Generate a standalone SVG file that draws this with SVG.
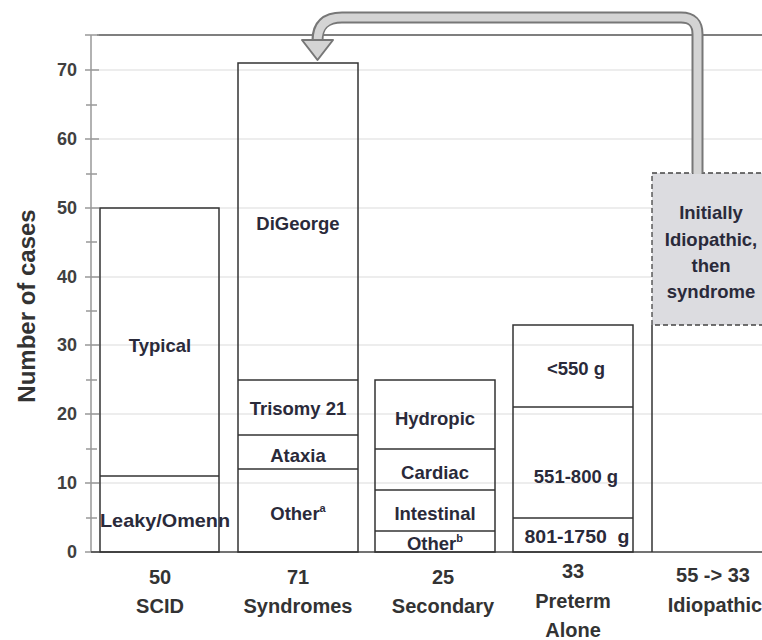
<svg xmlns="http://www.w3.org/2000/svg" width="762" height="640" viewBox="0 0 762 640">
<style>
.grid{stroke:#dcdcdc;stroke-width:1.2}
.tick{stroke:#999;stroke-width:1.5}
.bar{fill:none;stroke:#333;stroke-width:1.5}
.ax{font-family:"Liberation Sans",Arial,sans-serif;font-weight:bold;font-size:18px;fill:#404040;text-anchor:end}
.lbl{font-family:"Liberation Sans",Arial,sans-serif;font-weight:bold;font-size:18.5px;fill:#2a2a3a;text-anchor:middle}
.cat{font-family:"Liberation Sans",Arial,sans-serif;font-weight:bold;font-size:20px;fill:#333;text-anchor:middle}
</style>
<rect width="762" height="640" fill="#fff"/>
<g id="axes">
<line class="grid" x1="91" y1="483" x2="762" y2="483"/>
<line class="grid" x1="91" y1="414" x2="762" y2="414"/>
<line class="grid" x1="91" y1="345" x2="762" y2="345"/>
<line class="grid" x1="91" y1="277" x2="762" y2="277"/>
<line class="grid" x1="91" y1="208" x2="762" y2="208"/>
<line class="grid" x1="91" y1="139" x2="762" y2="139"/>
<line class="grid" x1="91" y1="70" x2="762" y2="70"/>
<line x1="97" y1="35" x2="762" y2="35" stroke="#555" stroke-width="1.5"/>
<line class="tick" x1="91" y1="35" x2="91" y2="552"/>
<line class="tick" x1="85" y1="552" x2="99" y2="552"/>
<line class="tick" x1="85" y1="483" x2="99" y2="483"/>
<line class="tick" x1="85" y1="414" x2="99" y2="414"/>
<line class="tick" x1="85" y1="345" x2="99" y2="345"/>
<line class="tick" x1="85" y1="277" x2="99" y2="277"/>
<line class="tick" x1="85" y1="208" x2="99" y2="208"/>
<line class="tick" x1="85" y1="139" x2="99" y2="139"/>
<line class="tick" x1="85" y1="70" x2="99" y2="70"/>
<line class="tick" x1="85" y1="35" x2="99" y2="35"/>
<line class="tick" x1="86" y1="518" x2="97" y2="518"/>
<line class="tick" x1="86" y1="449" x2="97" y2="449"/>
<line class="tick" x1="86" y1="380" x2="97" y2="380"/>
<line class="tick" x1="86" y1="311" x2="97" y2="311"/>
<line class="tick" x1="86" y1="242" x2="97" y2="242"/>
<line class="tick" x1="86" y1="174" x2="97" y2="174"/>
<line class="tick" x1="86" y1="105" x2="97" y2="105"/>
<line x1="91" y1="552" x2="762" y2="552" stroke="#444" stroke-width="1.5"/>
<text class="ax" x="77" y="558">0</text>
<text class="ax" x="77" y="489">10</text>
<text class="ax" x="77" y="420">20</text>
<text class="ax" x="77" y="351">30</text>
<text class="ax" x="77" y="283">40</text>
<text class="ax" x="77" y="214">50</text>
<text class="ax" x="77" y="145">60</text>
<text class="ax" x="77" y="76">70</text>
<text x="0" y="0" transform="translate(35,306) rotate(-90)" font-family="'Liberation Sans',Arial,sans-serif" font-weight="bold" font-size="24" fill="#333" text-anchor="middle">Number of cases</text>
</g>
<g id="scid">
<rect class="bar" x="100" y="208" width="119" height="344"/>
<line class="bar" x1="100" y1="476" x2="219" y2="476"/>
<text class="lbl" x="160" y="352">Typical</text>
<text class="lbl" x="165" y="527" textLength="130" lengthAdjust="spacingAndGlyphs">Leaky/Omenn</text>
</g>
<g id="syndromes">
<rect class="bar" x="238" y="63" width="120" height="489"/>
<line class="bar" x1="238" y1="380" x2="358" y2="380"/>
<line class="bar" x1="238" y1="435" x2="358" y2="435"/>
<line class="bar" x1="238" y1="469" x2="358" y2="469"/>
<text class="lbl" x="298" y="230">DiGeorge</text>
<text class="lbl" x="298" y="415">Trisomy 21</text>
<text class="lbl" x="298" y="462">Ataxia</text>
<text class="lbl" x="298" y="520">Other<tspan font-size="11" dy="-8">a</tspan></text>
</g>
<g id="secondary">
<rect class="bar" x="375" y="380" width="120" height="172"/>
<line class="bar" x1="375" y1="449" x2="495" y2="449"/>
<line class="bar" x1="375" y1="490" x2="495" y2="490"/>
<line class="bar" x1="375" y1="531" x2="495" y2="531"/>
<text class="lbl" x="435" y="425">Hydropic</text>
<text class="lbl" x="435" y="479">Cardiac</text>
<text class="lbl" x="435" y="520">Intestinal</text>
<text class="lbl" x="435" y="550">Other<tspan font-size="11" dy="-8">b</tspan></text>
</g>
<g id="preterm">
<rect class="bar" x="513" y="325" width="120" height="227"/>
<line class="bar" x1="513" y1="407" x2="633" y2="407"/>
<line class="bar" x1="513" y1="518" x2="633" y2="518"/>
<text class="lbl" x="576" y="375">&lt;550 g</text>
<text class="lbl" x="576" y="483">551-800 g</text>
<text class="lbl" x="577" y="543" textLength="105" lengthAdjust="spacingAndGlyphs" xml:space="preserve">801-1750  g</text>
</g>
<g id="idiopathic">
<line class="bar" x1="652" y1="325" x2="652" y2="552"/>
<rect x="652" y="173" width="120" height="152" fill="#dcdce0" stroke="#444" stroke-width="1.3" stroke-dasharray="5,3"/>
<text class="lbl" x="711" y="219">Initially</text>
<text class="lbl" x="711" y="246">Idiopathic,</text>
<text class="lbl" x="711" y="272">then</text>
<text class="lbl" x="711" y="298">syndrome</text>
</g>
<g id="connectors">
<path d="M697.5,173 V34 Q697.5,17.5 681,17.5 H342 Q317.5,17.5 317.5,40" fill="none" stroke="#777" stroke-width="12"/>
<path d="M697.5,174 V34 Q697.5,17.5 681,17.5 H342 Q317.5,17.5 317.5,42" fill="none" stroke="#d4d4d4" stroke-width="8"/>
<polygon points="302,40 333,40 317.5,60" fill="#d4d4d4" stroke="#777" stroke-width="2" stroke-linejoin="round"/>
</g>
<g id="categories">
<text class="cat" x="160" y="584">50</text>
<text class="cat" x="160" y="613">SCID</text>
<text class="cat" x="298" y="584">71</text>
<text class="cat" x="298" y="613">Syndromes</text>
<text class="cat" x="443" y="584">25</text>
<text class="cat" x="443" y="613">Secondary</text>
<text class="cat" x="573" y="578">33</text>
<text class="cat" x="573" y="608">Preterm</text>
<text class="cat" x="573" y="637">Alone</text>
<text class="cat" x="713" y="582">55 -&gt; 33</text>
<text class="cat" x="715" y="612">Idiopathic</text>
</g>
</svg>
